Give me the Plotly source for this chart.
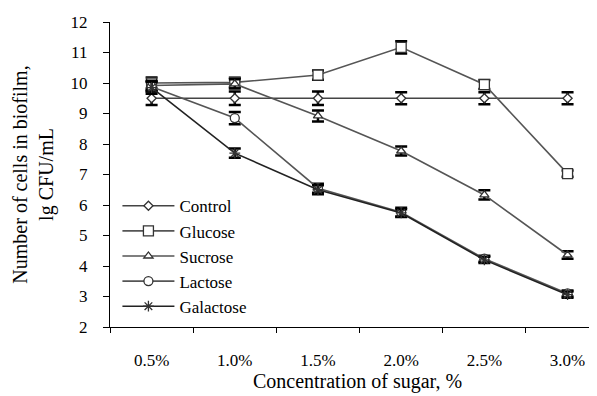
import plotly.graph_objects as go

categories = ["0.5%", "1.0%", "1.5%", "2.0%", "2.5%", "3.0%"]
control = [9.5, 9.5, 9.5, 9.5, 9.5, 9.5]
glucose = [10.0, 10.02, 10.26, 11.17, 9.95, 7.03]
sucrose = [9.92, 9.97, 8.92, 7.77, 6.33, 4.36]
lactose = [9.88, 8.85, 6.55, 5.76, 4.24, 3.1]
galactose = [9.85, 7.7, 6.5, 5.74, 4.2, 3.06]
err_control = [0.22, 0.22, 0.22, 0.2, 0.2, 0.2]
err_glucose = [0.18, 0.15, 0.15, 0.2, 0.15, 0.1]
err_sucrose = [0.15, 0.15, 0.18, 0.15, 0.15, 0.12]
err_lactose = [0.15, 0.2, 0.15, 0.15, 0.1, 0.1]
err_galactose = [0.2, 0.15, 0.15, 0.12, 0.1, 0.1]

series = [
    ("Control", control, err_control, "diamond", 7, "#444444"),
    ("Glucose", glucose, err_glucose, "square", 10, "#555555"),
    ("Sucrose", sucrose, err_sucrose, "triangle-up", 8, "#555555"),
    ("Lactose", lactose, err_lactose, "circle", 9, "#555555"),
    ("Galactose", galactose, err_galactose, "asterisk", 9, "#222222"),
]

fig = go.Figure()
for name, ys, errs, sym, size, lc in series:
    fig.add_trace(go.Scatter(
        x=categories, y=ys, name=name, mode="lines+markers",
        line=dict(color=lc, width=1.6),
        marker=dict(symbol=sym, size=size, color="white",
                    line=dict(color="#333333", width=1.3)),
        error_y=dict(type="data", array=errs, visible=True,
                     color="black", thickness=2.5, width=6),
    ))

font = "Liberation Serif, Times New Roman, serif"
fig.update_layout(
    width=597, height=396,
    margin=dict(l=102, r=0, t=14, b=77),
    paper_bgcolor="white", plot_bgcolor="white",
    font=dict(family=font, size=17, color="black"),
    showlegend=True,
    legend=dict(x=0.015, y=0.455, xanchor="left", yanchor="top",
                bgcolor="rgba(0,0,0,0)", font=dict(size=17),
                tracegroupgap=0, itemwidth=52),
    xaxis=dict(
        type="category", range=[-0.5, 5.45], tickson="boundaries",
        showline=True, linecolor="black", linewidth=1.3,
        ticks="outside", ticklen=5, tickcolor="black",
        showgrid=False, zeroline=False, ticklabelstandoff=17,
        automargin=False,
        title=dict(text="Concentration of sugar, %", standoff=4),
    ),
    yaxis=dict(
        range=[2, 12], dtick=1,
        showline=True, linecolor="black", linewidth=1.3,
        ticks="outside", ticklen=6, tickcolor="black",
        showgrid=False, zeroline=False, ticklabelstandoff=12,
        automargin=False,
        title=dict(text="Number of cells in biofilm,<br>lg CFU/mL", standoff=11),
    ),
)

fig.write_html("out.html")
